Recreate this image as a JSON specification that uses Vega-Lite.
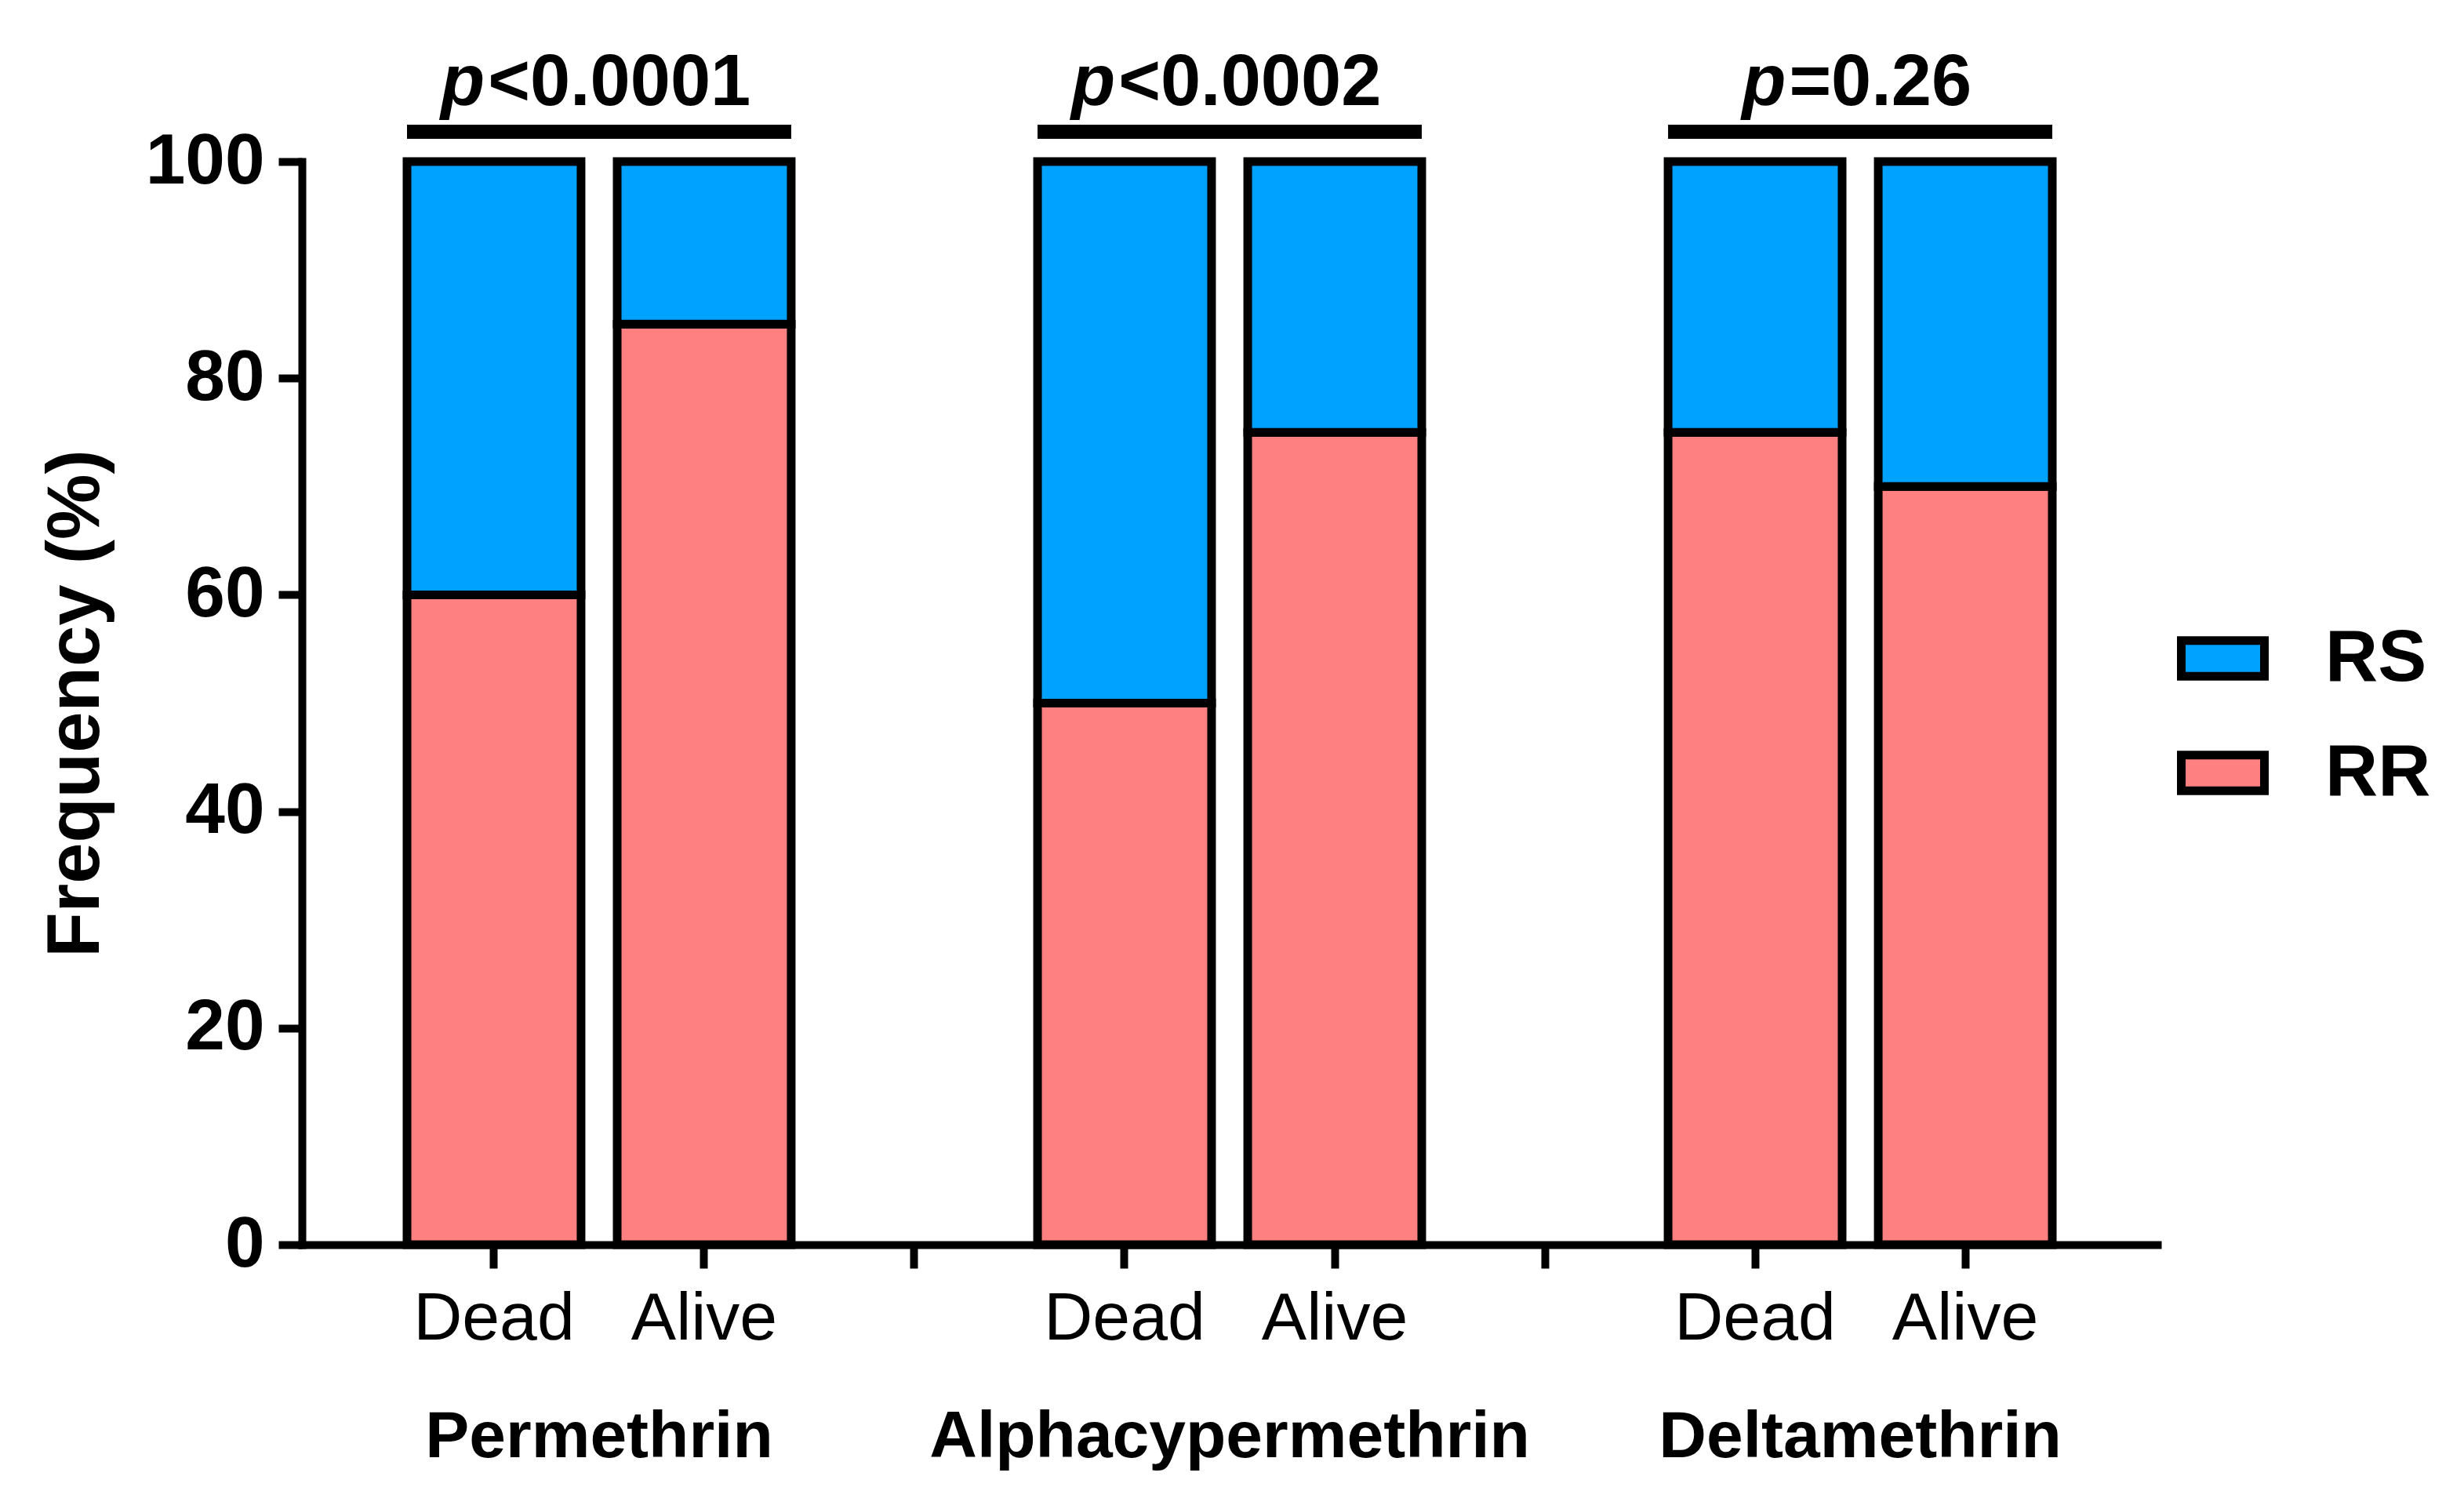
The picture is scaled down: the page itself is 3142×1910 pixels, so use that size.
{
  "$schema": "https://vega.github.io/schema/vega-lite/v6.json",
  "width": 2366,
  "height": 1381,
  "autosize": {"type": "none"},
  "padding": {"left": 385, "top": 206, "right": 391, "bottom": 323},
  "background": "white",
  "config": {
    "view": {"stroke": null},
    "font": "Liberation Sans",
    "axisX": {
      "domainColor": "black", "domainWidth": 10, "domainCap": "square",
      "tickColor": "black", "tickWidth": 10, "tickSize": 30,
      "labelFont": "Liberation Sans", "labelFontSize": 86, "labelColor": "black", "labelLimit": 1000,
      "labelPadding": 22, "labelAngle": 0, "labelOverlap": false, "grid": false
    },
    "axisY": {
      "domainColor": "black", "domainWidth": 10, "domainCap": "square",
      "tickColor": "black", "tickWidth": 10, "tickSize": 30,
      "labelFont": "Liberation Sans", "labelFontSize": 91, "labelFontWeight": "bold", "labelColor": "black",
      "labelPadding": 18, "grid": false,
      "titleFont": "Liberation Sans", "titleFontSize": 94, "titleFontWeight": "bold", "titleColor": "black",
      "titlePadding": 40
    }
  },
  "datasets": {
    "bars": [
      {"insecticide": "Permethrin", "status": "Dead", "bar": "Permethrin Dead", "genotype": "RR", "frequency": 60},
      {"insecticide": "Permethrin", "status": "Dead", "bar": "Permethrin Dead", "genotype": "RS", "frequency": 40},
      {"insecticide": "Permethrin", "status": "Alive", "bar": "Permethrin Alive", "genotype": "RR", "frequency": 85},
      {"insecticide": "Permethrin", "status": "Alive", "bar": "Permethrin Alive", "genotype": "RS", "frequency": 15},
      {"insecticide": "Alphacypermethrin", "status": "Dead", "bar": "Alphacypermethrin Dead", "genotype": "RR", "frequency": 50},
      {"insecticide": "Alphacypermethrin", "status": "Dead", "bar": "Alphacypermethrin Dead", "genotype": "RS", "frequency": 50},
      {"insecticide": "Alphacypermethrin", "status": "Alive", "bar": "Alphacypermethrin Alive", "genotype": "RR", "frequency": 75},
      {"insecticide": "Alphacypermethrin", "status": "Alive", "bar": "Alphacypermethrin Alive", "genotype": "RS", "frequency": 25},
      {"insecticide": "Deltamethrin", "status": "Dead", "bar": "Deltamethrin Dead", "genotype": "RR", "frequency": 75},
      {"insecticide": "Deltamethrin", "status": "Dead", "bar": "Deltamethrin Dead", "genotype": "RS", "frequency": 25},
      {"insecticide": "Deltamethrin", "status": "Alive", "bar": "Deltamethrin Alive", "genotype": "RR", "frequency": 70},
      {"insecticide": "Deltamethrin", "status": "Alive", "bar": "Deltamethrin Alive", "genotype": "RS", "frequency": 30}
    ],
    "groups": [
      {"insecticide": "Permethrin", "p_value": "<0.0001", "left": "Permethrin Dead", "right": "Permethrin Alive"},
      {"insecticide": "Alphacypermethrin", "p_value": "<0.0002", "left": "Alphacypermethrin Dead", "right": "Alphacypermethrin Alive"},
      {"insecticide": "Deltamethrin", "p_value": "=0.26", "left": "Deltamethrin Dead", "right": "Deltamethrin Alive"}
    ]
  },
  "layer": [
    {
      "data": {"name": "bars"},
      "mark": {"type": "bar", "stroke": "black", "strokeWidth": 11, "strokeJoin": "miter"},
      "encoding": {
        "x": {
          "field": "bar", "type": "nominal",
          "scale": {
            "domain": ["Permethrin Dead", "Permethrin Alive", "gap1", "Alphacypermethrin Dead", "Alphacypermethrin Alive", "gap2", "Deltamethrin Dead", "Deltamethrin Alive"],
            "paddingInner": 0.172, "paddingOuter": 0.5
          },
          "axis": {
            "title": null,
            "labelExpr": "test(/Dead/, datum.value) ? 'Dead' : (test(/Alive/, datum.value) ? 'Alive' : '')"
          }
        },
        "y": {
          "field": "frequency", "type": "quantitative", "stack": "zero",
          "scale": {"domain": [0, 100], "nice": false},
          "axis": {"title": "Frequency (%)", "values": [0, 20, 40, 60, 80, 100]}
        },
        "color": {
          "field": "genotype", "type": "nominal",
          "scale": {"domain": ["RS", "RR"], "range": ["#00A2FF", "#FF8080"]},
          "legend": {
            "orient": "none", "legendX": 2391, "legendY": 575, "title": null, "padding": 0,
            "symbolType": "M-1,-0.43L1,-0.43L1,0.43L-1,0.43Z", "symbolSize": 11236,
            "symbolStrokeColor": "black", "symbolStrokeWidth": 11, "symbolOpacity": 1,
            "labelFont": "Liberation Sans", "labelFontSize": 93, "labelFontWeight": "bold", "labelColor": "black",
            "labelOffset": 72, "rowPadding": 40
          }
        },
        "order": {"field": "genotype", "sort": "ascending"}
      }
    },
    {
      "data": {"name": "groups"},
      "mark": {"type": "rule", "color": "black", "strokeWidth": 18, "yOffset": -38},
      "encoding": {
        "x": {
          "field": "left", "type": "nominal", "bandPosition": 0,
          "scale": {
            "domain": ["Permethrin Dead", "Permethrin Alive", "gap1", "Alphacypermethrin Dead", "Alphacypermethrin Alive", "gap2", "Deltamethrin Dead", "Deltamethrin Alive"],
            "paddingInner": 0.172, "paddingOuter": 0.5
          }
        },
        "x2": {"field": "right", "bandPosition": 1},
        "y": {"datum": 100, "type": "quantitative"}
      }
    },
    {
      "data": {"name": "groups"},
      "mark": {"type": "text", "text": "p", "font": "Liberation Sans", "fontSize": 92, "fontWeight": "bold", "fontStyle": "italic", "color": "black", "baseline": "alphabetic", "align": "right", "dy": -72,
        "dx": {"expr": "24 - 46 * (0.556 * length(datum.p_value) - 0.2)"}},
      "encoding": {
        "x": {
          "field": "left", "type": "nominal", "bandPosition": 1.104,
          "scale": {
            "domain": ["Permethrin Dead", "Permethrin Alive", "gap1", "Alphacypermethrin Dead", "Alphacypermethrin Alive", "gap2", "Deltamethrin Dead", "Deltamethrin Alive"],
            "paddingInner": 0.172, "paddingOuter": 0.5
          }
        },
        "y": {"datum": 100, "type": "quantitative"}
      }
    },
    {
      "data": {"name": "groups"},
      "mark": {"type": "text", "font": "Liberation Sans", "fontSize": 92, "fontWeight": "bold", "color": "black", "baseline": "alphabetic", "align": "left", "dy": -72,
        "dx": {"expr": "28 - 46 * (0.556 * length(datum.p_value) - 0.2)"}},
      "encoding": {
        "x": {
          "field": "left", "type": "nominal", "bandPosition": 1.104,
          "scale": {
            "domain": ["Permethrin Dead", "Permethrin Alive", "gap1", "Alphacypermethrin Dead", "Alphacypermethrin Alive", "gap2", "Deltamethrin Dead", "Deltamethrin Alive"],
            "paddingInner": 0.172, "paddingOuter": 0.5
          }
        },
        "y": {"datum": 100, "type": "quantitative"},
        "text": {"field": "p_value"}
      }
    },
    {
      "data": {"name": "groups"},
      "mark": {"type": "text", "font": "Liberation Sans", "fontSize": 84, "fontWeight": "bold", "color": "black", "baseline": "alphabetic", "align": "center", "dy": 271},
      "encoding": {
        "x": {
          "field": "left", "type": "nominal", "bandPosition": 1.104,
          "scale": {
            "domain": ["Permethrin Dead", "Permethrin Alive", "gap1", "Alphacypermethrin Dead", "Alphacypermethrin Alive", "gap2", "Deltamethrin Dead", "Deltamethrin Alive"],
            "paddingInner": 0.172, "paddingOuter": 0.5
          }
        },
        "y": {"datum": 0, "type": "quantitative"},
        "text": {"field": "insecticide"}
      }
    }
  ]
}
